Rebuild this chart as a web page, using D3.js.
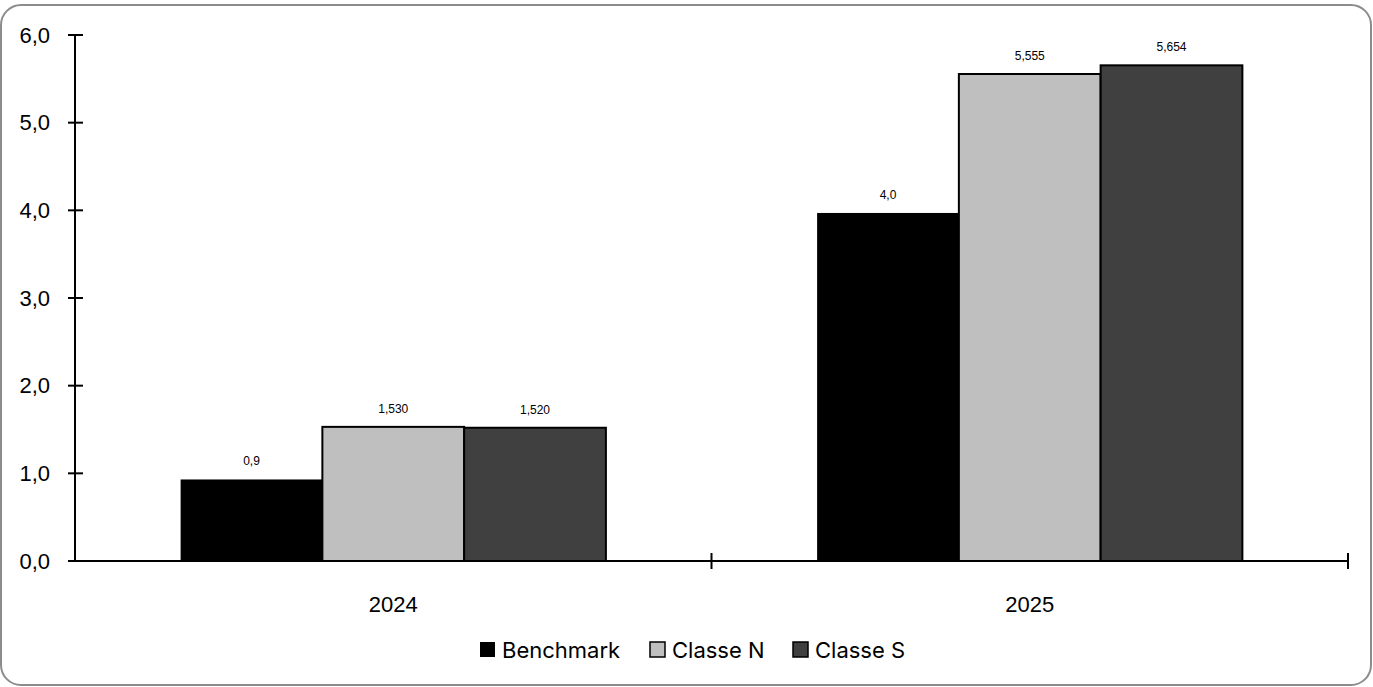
<!DOCTYPE html>
<html><head><meta charset="utf-8">
<script src="https://cdn.jsdelivr.net/npm/d3@7"></script>
<style>body{margin:0;background:#fff;overflow:hidden;}svg{display:block;}</style>
</head><body>
<script>
const categories = ["2024", "2025"];
const seriesNames = ["Benchmark", "Classe N", "Classe S"];
const benchmark = [0.93, 3.97];
const classeN = [1.530, 5.555];
const classeS = [1.520, 5.654];
const valueDecimals = [1, 3, 3];
const yTicks = [0, 1, 2, 3, 4, 5, 6];
const colors = ["#000000", "#bfbfbf", "#404040"];

(function () {
const W = 1373, H = 687;
const svg = d3.select("body").append("svg").attr("width", W).attr("height", H);

svg.append("rect").attr("x", 1).attr("y", 5).attr("width", W - 3).attr("height", 680)
  .attr("rx", 20).attr("fill", "#fff").attr("stroke", "#8c8c8c").attr("stroke-width", 2);

const mLeft = 75, mRight = 1348, mTop = 35, mBottom = 561;
const y = d3.scaleLinear().domain([0, 6]).range([mBottom, mTop]);
const x0 = d3.scaleBand().domain(categories).range([mLeft, mRight]).paddingInner(0).paddingOuter(0);
const x1 = d3.scaleBand().domain(seriesNames).range([0, x0.bandwidth()]).paddingOuter(0.745).paddingInner(0);

const series = [benchmark, classeN, classeS];
const g = svg.append("g");

categories.forEach((c, ci) => {
  seriesNames.forEach((s, si) => {
    const v = series[si][ci];
    g.append("rect")
      .attr("x", x0(c) + x1(s)).attr("y", y(v))
      .attr("width", x1.bandwidth()).attr("height", y(0) - y(v))
      .attr("fill", colors[si]).attr("stroke", "#000").attr("stroke-width", si === 0 ? 0 : 2);
    g.append("text")
      .attr("x", x0(c) + x1(s) + x1.bandwidth() / 2).attr("y", y(v) - 14)
      .attr("text-anchor", "middle").attr("font-family", "Liberation Sans, Arial, sans-serif")
      .attr("font-size", 12).attr("fill", "#000")
      .text(v.toFixed(valueDecimals[si]).replace(".", ","));
  });
});

// Y axis
const yAxis = svg.append("g");
yAxis.append("line").attr("x1", mLeft).attr("x2", mLeft).attr("y1", mTop).attr("y2", mBottom)
  .attr("stroke", "#000").attr("stroke-width", 2);
yTicks.forEach(t => {
  yAxis.append("line").attr("x1", mLeft - 7).attr("x2", mLeft + 8).attr("y1", y(t)).attr("y2", y(t))
    .attr("stroke", "#000").attr("stroke-width", 2);
  yAxis.append("text").attr("x", 50).attr("y", y(t)).attr("dy", "0.35em")
    .attr("text-anchor", "end").attr("font-family", "Liberation Sans, Arial, sans-serif")
    .attr("font-size", 22).attr("fill", "#000").text(t.toFixed(1).replace(".", ","));
});

// X axis
const xAxis = svg.append("g");
xAxis.append("line").attr("x1", mLeft).attr("x2", mRight).attr("y1", mBottom).attr("y2", mBottom)
  .attr("stroke", "#000").attr("stroke-width", 2);
categories.forEach((c, i) => {
  const xe = x0(c) + x0.bandwidth();
  xAxis.append("line").attr("x1", xe).attr("x2", xe).attr("y1", mBottom - 8).attr("y2", mBottom + 8)
    .attr("stroke", "#000").attr("stroke-width", 2);
  xAxis.append("text").attr("x", x0(c) + x0.bandwidth() / 2).attr("y", 604).attr("dy", "0.35em")
    .attr("text-anchor", "middle").attr("font-family", "Liberation Sans, Arial, sans-serif")
    .attr("font-size", 22).attr("fill", "#000").text(c);
});

// Legend
const legendX = [480, 650, 793];
const leg = svg.append("g");
seriesNames.forEach((s, i) => {
  leg.append("rect").attr("x", legendX[i]).attr("y", 642).attr("width", 15).attr("height", 15)
    .attr("fill", colors[i]).attr("stroke", i === 0 ? "none" : "#000").attr("stroke-width", 1.5);
  leg.append("text").attr("x", legendX[i] + 22).attr("y", 650).attr("dy", "0.35em")
    .attr("font-family", "Inter, Noto Sans, sans-serif").attr("font-size", 22).attr("fill", "#000").text(s);
});
})();
</script>
</body></html>
